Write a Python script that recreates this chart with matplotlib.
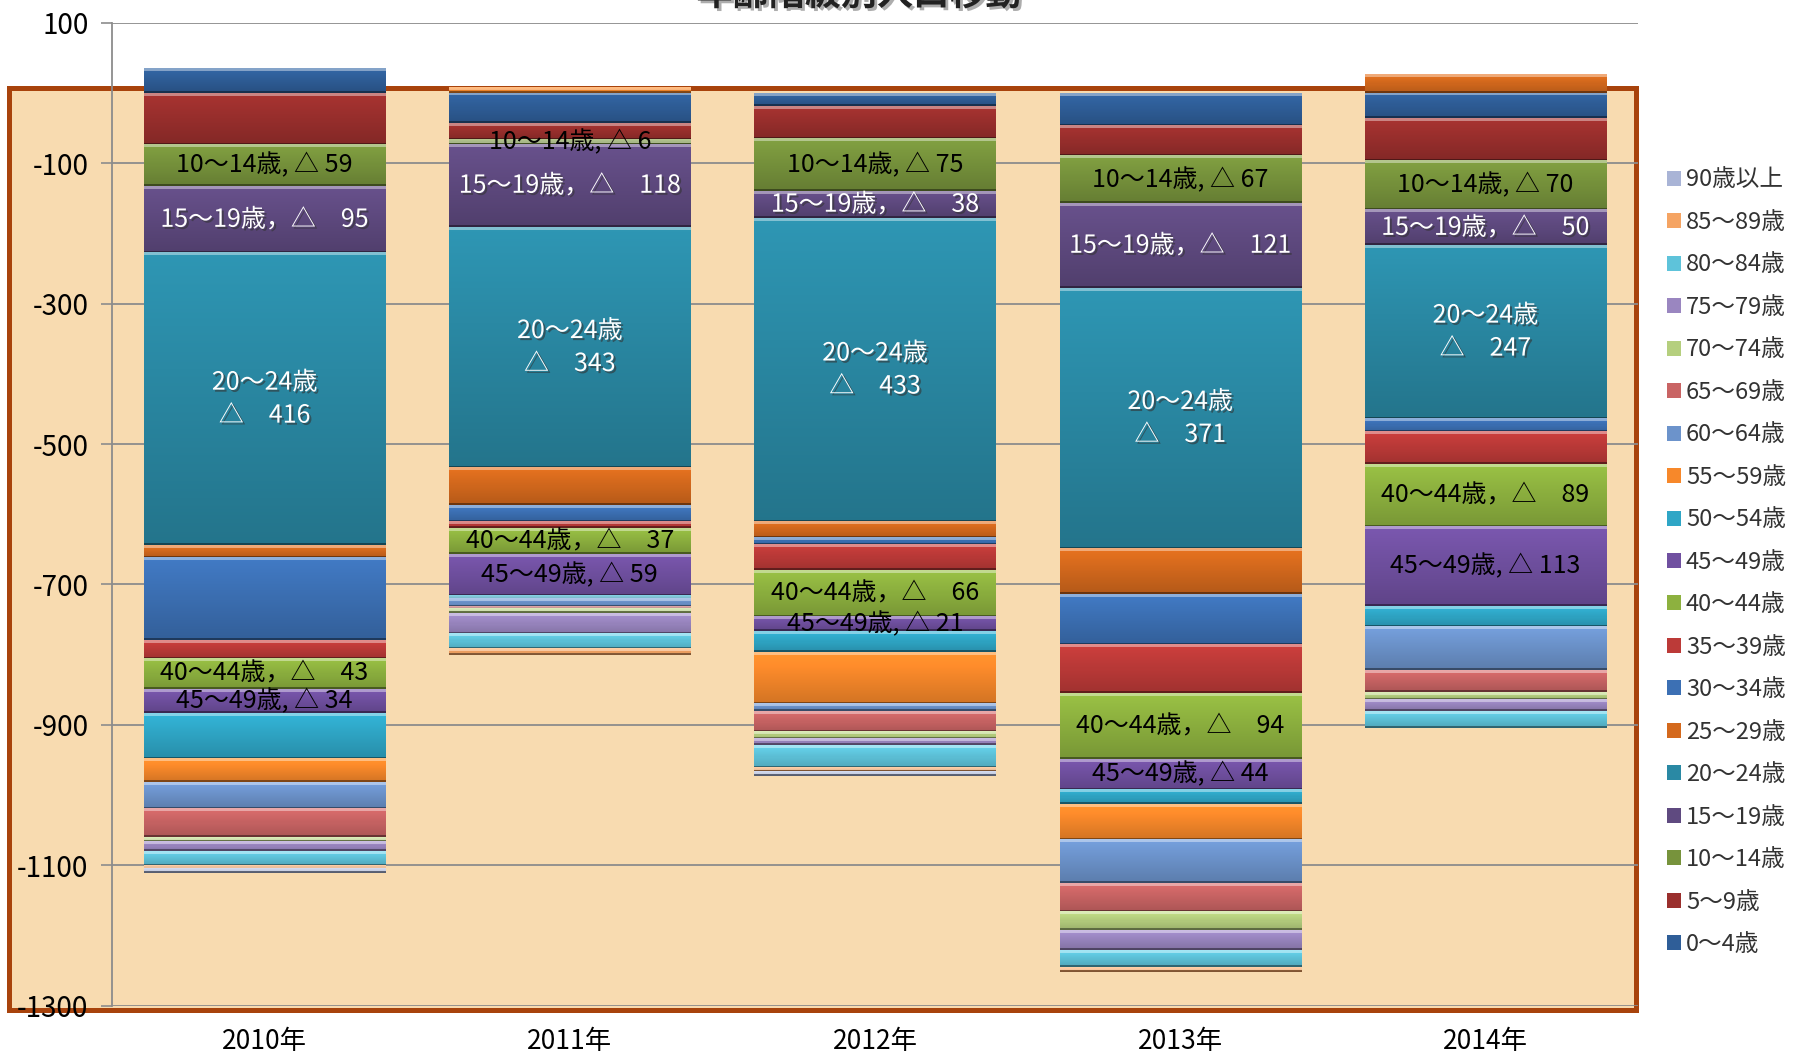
import numpy as np
import matplotlib
matplotlib.use('Agg')
import matplotlib.pyplot as plt
import matplotlib.colors as mcolors
import matplotlib.patheffects as pe
from matplotlib.patches import Rectangle

plt.rcParams['font.family'] = ['Noto Sans CJK JP', 'DejaVu Sans']
plt.rcParams['axes.unicode_minus'] = False

# データ（年齢階級別の転入超過数、△はマイナス）
years = ['2010年', '2011年', '2012年', '2013年', '2014年']
ages = ['0〜4歳', '5〜9歳', '10〜14歳', '15〜19歳', '20〜24歳', '25〜29歳',
        '30〜34歳', '35〜39歳', '40〜44歳', '45〜49歳', '50〜54歳', '55〜59歳',
        '60〜64歳', '65〜69歳', '70〜74歳', '75〜79歳', '80〜84歳', '85〜89歳',
        '90歳以上']
v2010 = [35, -74, -59, -95, -416, -18, -117, -27, -43, -34, -65, -34, -38, -40, -7, -13, -21, -3, -7]
v2011 = [-43, -24, -6, -118, -343, -53, -24, -9, -37, -59, -4, 8, -12, -2, -7, -29, -22, -9, 0]
v2012 = [-18, -47, -75, -38, -433, -23, -10, -36, -66, -21, -29, -74, -11, -29, -10, -9, -32, -5, -7]
v2013 = [-47, -43, -67, -121, -371, -65, -72, -69, -94, -44, -20, -51, -62, -41, -26, -28, -24, -7, 0]
v2014 = [-36, -61, -70, -50, -247, 26, -19, -46, -89, -113, -29, 0, -62, -31, -11, -17, -24, 0, 0]

colors = ['#2F5E98', '#9A2F2D', '#77933C', '#5F4A80', '#2A89A4', '#D4691D',
          '#3C70B4', '#BC3A38', '#8DB13F', '#7050A0', '#2FA6C6', '#F7882A',
          '#6C93CB', '#C96464', '#B5CF7E', '#9A86C0', '#5EC3DA', '#F5A463',
          '#A9B4D6']

# ラベルを付ける年齢階級と書式
label_style = {2: ('{a}, △ {n}', 'black'),
               3: ('{a}，△　{n}', 'white'),
               4: ('{a}\n△　{n}', 'white'),
               8: ('{a}，△　{n}', 'black'),
               9: ('{a}, △ {n}', 'black')}

data = np.array([v2010, v2011, v2012, v2013, v2014])  # 年 x 年齢

W, H = 1796, 1053
fig = plt.figure(figsize=(W / 100, H / 100), dpi=100)

# 背景の枠（プロットエリアの後ろ）
fig.patches.append(Rectangle((9 / W, 1 - 1010 / H), (1636 - 9) / W, (1010 - 88) / H,
                             transform=fig.transFigure, facecolor='#F8DBB0',
                             edgecolor='#A8430C', lw=3.6, zorder=-5))

ax = fig.add_axes([112 / W, 1 - 1005.6 / H, (1638 - 112) / W, (1005.6 - 22.9) / H])
ax.set_facecolor('none')

x = np.arange(len(years))
width = 0.79
px_per_unit = (1005.6 - 22.9) / 1400


def bevel_img(color, hpx):
    rgb = np.array(mcolors.to_rgb(color))
    n = max(int(round(hpx)), 2)
    p = np.arange(n) + 0.5
    img = np.zeros((n, 1, 3))
    for i in range(n):
        f = 1.10 - 0.25 * p[i] / max(hpx, 1)
        c = np.clip(rgb * f, 0, 1)
        if p[i] < 3.5:
            c = c + (1 - c) * 0.40
        elif p[i] > hpx - 2.0:
            c = c * 0.6
        img[i, 0] = c
    return img


pos = np.zeros(len(years))
neg = np.zeros(len(years))
containers = []
for j, age in enumerate(ages):
    vals = data[:, j]
    bottoms = np.where(vals >= 0, pos, neg)
    bars = ax.bar(x, vals, width, bottom=bottoms, color=colors[j], label=age,
                  edgecolor='none', zorder=2)
    containers.append(bars)
    for k, patch in enumerate(bars.patches):
        v = vals[k]
        if v == 0:
            continue
        y0 = bottoms[k]
        lo, hi = min(y0, y0 + v), max(y0, y0 + v)
        img = bevel_img(colors[j], (hi - lo) * px_per_unit)
        ax.imshow(img, extent=(patch.get_x(), patch.get_x() + width, lo, hi),
                  origin='upper', aspect='auto', interpolation='nearest', zorder=2.5)
        if j in label_style:
            fmt, tc = label_style[j]
            t = ax.text(x[k], y0 + v / 2, fmt.format(a=age, n=abs(v)), ha='center',
                        va='center', fontsize=18, color=tc, zorder=4, linespacing=1.35)
            if tc == 'white':
                t.set_path_effects([pe.withSimplePatchShadow(offset=(1.5, -1.5),
                                                             shadow_rgbFace='#333333', alpha=0.6)])
    pos = np.where(vals >= 0, pos + vals, pos)
    neg = np.where(vals < 0, neg + vals, neg)

ax.set_xlim(-0.5, 4.5)
ax.set_ylim(-1300, 100)
ax.set_yticks(np.arange(100, -1301, -200))
ax.set_xticks(x)
ax.set_xticklabels(years, fontsize=19)
ax.tick_params(axis='x', length=0, pad=16)
ax.tick_params(axis='y', length=8, width=1.2, color='#8C8C8C', labelsize=20, pad=9)
ax.yaxis.grid(True, color='#8C8C8C', lw=1.3)
ax.set_axisbelow(True)
for s in ['top', 'right', 'bottom']:
    ax.spines[s].set_visible(False)
ax.spines['left'].set_color('#8C8C8C')
ax.spines['left'].set_linewidth(1.3)

fig.text(859 / W, 1 - 13 / H, '年齢階級別人口移動', ha='center', va='bottom',
         fontsize=26, fontweight='bold', color='#222222',
         path_effects=[pe.withSimplePatchShadow(offset=(2, -2), shadow_rgbFace='#777777', alpha=0.6)])

leg = fig.legend(containers[::-1], ages[::-1], loc='upper left',
                 bbox_to_anchor=(1667 / W, 1 - 168.5 / H), frameon=False, fontsize=17,
                 handlelength=0.6, handleheight=0.6, handletextpad=0.2,
                 labelspacing=0.825, borderpad=0, borderaxespad=0)
for txt in leg.get_texts():
    txt.set_color('#333333')

fig.savefig('out.png', dpi=100)
